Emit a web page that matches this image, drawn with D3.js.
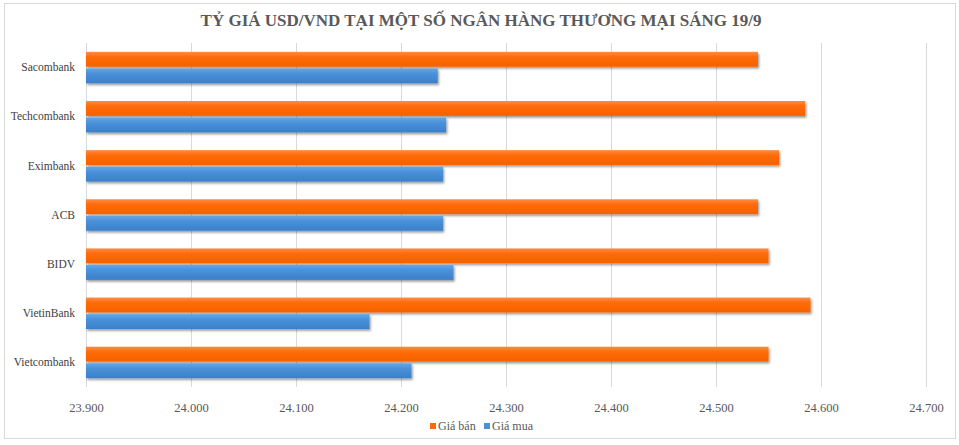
<!DOCTYPE html>
<html>
<head>
<meta charset="utf-8">
<script src="https://cdn.jsdelivr.net/npm/d3@7"></script>
<style>
  html, body { margin: 0; padding: 0; background: #fff; }
  svg { display: block; }
</style>
</head>
<body>
<svg id="chart"></svg>
<script>
// Data (VND per USD)
const banks = ["Sacombank", "Techcombank", "Eximbank", "ACB", "BIDV", "VietinBank", "Vietcombank"];
const seriesNames = ["Giá bán", "Giá mua"];
const sellRates = [24540, 24585, 24560, 24540, 24550, 24590, 24550];
const buyRates = [24235, 24243, 24240, 24240, 24250, 24170, 24210];
const xTicks = [23900, 24000, 24100, 24200, 24300, 24400, 24500, 24600, 24700];
const title = "TỶ GIÁ USD/VND TẠI MỘT SỐ NGÂN HÀNG THƯƠNG MẠI SÁNG 19/9";

const width = 959;
const height = 445;
const plot = {left: 86, right: 926, top: 43, bottom: 387};
const serif = "'Liberation Serif', 'DejaVu Serif', serif";

const rows = banks.map((b, i) => ({bank: b, values: [sellRates[i], buyRates[i]]}));

const svg = d3.select("#chart")
    .attr("width", width)
    .attr("height", height)
    .attr("viewBox", [0, 0, width, height]);

// gradients + shadow
const defs = svg.append("defs");
const grads = [
  {id: "gOrange", stops: ["#ff8c45", "#ff6a08", "#f56200"]},
  {id: "gBlue", stops: ["#63a7e6", "#4a91da", "#3a80c9"]}
];
grads.forEach(g => {
  const lg = defs.append("linearGradient")
      .attr("id", g.id).attr("x1", 0).attr("y1", 0).attr("x2", 0).attr("y2", 1);
  lg.append("stop").attr("offset", "0%").attr("stop-color", g.stops[0]);
  lg.append("stop").attr("offset", "35%").attr("stop-color", g.stops[1]);
  lg.append("stop").attr("offset", "100%").attr("stop-color", g.stops[2]);
});
defs.append("filter").attr("id", "shadow")
    .attr("x", "-5%").attr("y", "-30%").attr("width", "110%").attr("height", "180%")
  .append("feDropShadow")
    .attr("dx", 1.2).attr("dy", 1.8).attr("stdDeviation", 0.9)
    .attr("flood-color", "#000").attr("flood-opacity", 0.4);

// chart area border
svg.append("rect")
    .attr("x", 4.5).attr("y", 3.5)
    .attr("width", 951).attr("height", 435)
    .attr("fill", "#fff")
    .attr("stroke", "#d9d9d9");

// scales
const x = d3.scaleLinear()
    .domain([xTicks[0], xTicks[xTicks.length - 1]])
    .range([plot.left, plot.right]);

const y = d3.scaleBand()
    .domain(banks)
    .range([plot.top, plot.bottom])
    .paddingInner(0.36)
    .paddingOuter(0.18);

const ySub = d3.scaleBand()
    .domain(seriesNames)
    .range([0, y.bandwidth()])
    .paddingInner(0.1);

const color = d3.scaleOrdinal(seriesNames, ["url(#gOrange)", "url(#gBlue)"]);
const legendColor = d3.scaleOrdinal(seriesNames, ["#ff6a08", "#4a91da"]);

// gridlines
svg.append("g")
    .attr("stroke", "#d9d9d9")
  .selectAll("line")
  .data(xTicks)
  .join("line")
    .attr("x1", d => Math.round(x(d)) + 0.5)
    .attr("x2", d => Math.round(x(d)) + 0.5)
    .attr("y1", plot.top)
    .attr("y2", plot.bottom);

// bars
const group = svg.append("g")
  .selectAll("g")
  .data(rows)
  .join("g")
    .attr("transform", d => `translate(0,${y(d.bank)})`);

group.selectAll("rect")
  .data(d => d.values.map((v, i) => ({key: seriesNames[i], value: v})))
  .join("rect")
    .attr("x", x(xTicks[0]))
    .attr("y", d => ySub(d.key))
    .attr("width", d => x(d.value) - x(xTicks[0]))
    .attr("height", ySub.bandwidth())
    .attr("fill", d => color(d.key))
    .attr("filter", "url(#shadow)");

// x axis labels
const xAxis = svg.append("g")
    .attr("transform", `translate(0,${plot.bottom})`)
    .call(d3.axisBottom(x)
      .tickValues(xTicks)
      .tickSize(0)
      .tickPadding(16)
      .tickFormat(d => d3.format(",")(d).replace(",", ".")));
xAxis.select(".domain").remove();
xAxis.selectAll("text")
    .attr("fill", "#595959")
    .style("font", `12.5px ${serif}`);

// y axis labels
const yAxis = svg.append("g")
    .attr("transform", `translate(${plot.left},0)`)
    .call(d3.axisLeft(y).tickSize(0).tickPadding(11));
yAxis.select(".domain").remove();
yAxis.selectAll("text")
    .attr("fill", "#404040")
    .style("font", `11.5px ${serif}`);

// title
svg.append("text")
    .attr("x", 481)
    .attr("y", 26)
    .attr("text-anchor", "middle")
    .attr("fill", "#595959")
    .style("font", `bold 17px ${serif}`)
    .text(title);

// legend
const legend = svg.append("g")
    .attr("transform", "translate(430,426)")
  .selectAll("g")
  .data(seriesNames)
  .join("g")
    .attr("transform", (d, i) => `translate(${i * 54},0)`);

legend.append("rect")
    .attr("x", 0).attr("y", -3)
    .attr("width", 6).attr("height", 6)
    .attr("fill", d => legendColor(d));

legend.append("text")
    .attr("x", 8)
    .attr("y", 4)
    .attr("fill", "#595959")
    .style("font", `12px ${serif}`)
    .text(d => d);
</script>
</body>
</html>
